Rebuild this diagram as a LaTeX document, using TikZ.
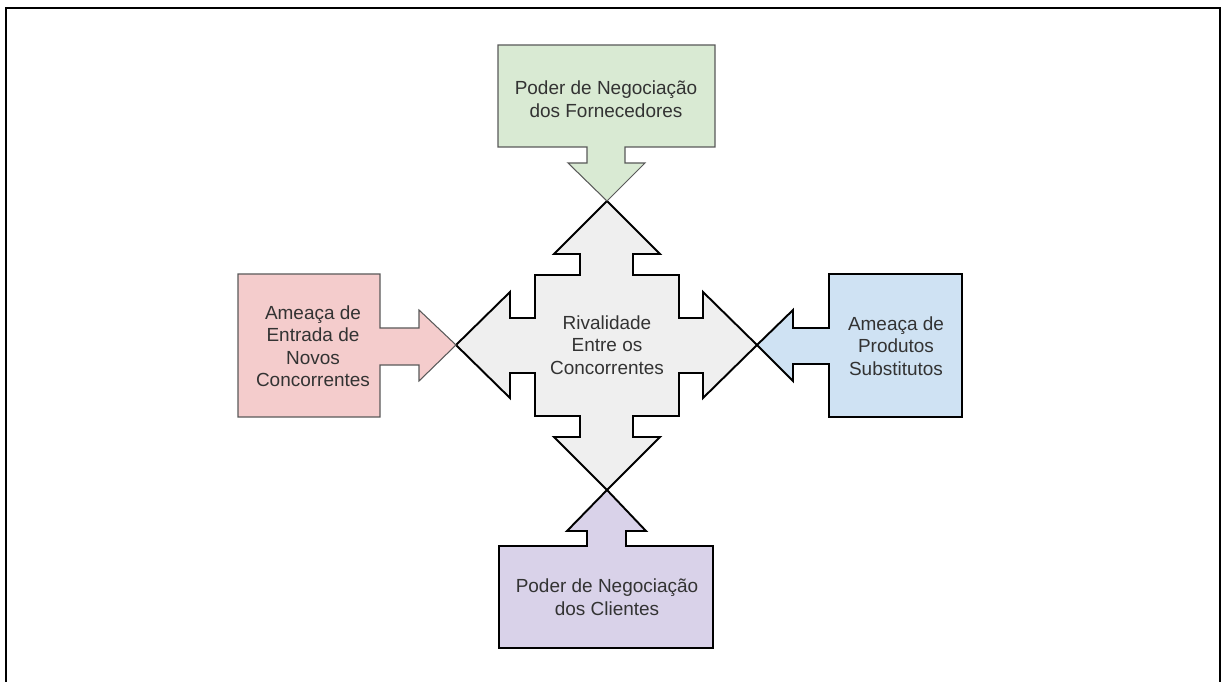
\documentclass[tikz,border=0pt]{standalone}
\usepackage{fontspec}
\setmainfont{Liberation Sans}
\usepackage{xcolor}
\usepackage{tikz}
\usetikzlibrary{positioning,calc}
\definecolor{fornfill}{HTML}{D9EAD3}
\definecolor{entrfill}{HTML}{F4CCCC}
\definecolor{subsfill}{HTML}{CFE2F3}
\definecolor{cliefill}{HTML}{D9D2E9}
\definecolor{rivfill}{HTML}{EFEFEF}
\definecolor{txtgray}{HTML}{333333}
\definecolor{thingray}{HTML}{595959}
\tikzset{
  frame/.style={draw, line width=1.7pt},
  force/.style={draw=thingray, line width=0.6pt, line join=miter},
  strong/.style={draw=black, line width=1.1pt, line join=miter},
  label/.style={font=\fontsize{10.8}{12.8}\selectfont, text=txtgray, align=center},
}

\begin{document}
\begin{tikzpicture}[x=0.02cm, y=-0.02cm]
    \useasboundingbox (0,0) rectangle (1221,682);
    \draw[frame] (6,682) -- (6,8) -- (1220,8) -- (1220,682);

    % shapes
    \filldraw[strong, fill=rivfill] (607,201) -- (660,254) -- (633,254) -- (633,275) -- (679,275)
      -- (679,318) -- (703,318) -- (703,292) -- (757,345) -- (703,398) -- (703,373) -- (679,373)
      -- (679,416) -- (633,416) -- (633,437) -- (660,437) -- (607,490) -- (554,437) -- (580,437)
      -- (580,416) -- (535,416) -- (535,373) -- (510,373) -- (510,398) -- (456,345) -- (510,292)
      -- (510,318) -- (535,318) -- (535,275) -- (580,275) -- (580,254) -- (554,254) -- cycle;
    \filldraw[force, fill=fornfill] (498,45) -- (715,45) -- (715,147) -- (625,147) -- (625,163)
      -- (645,163) -- (607,201) -- (568,163) -- (587,163) -- (587,147) -- (498,147) -- cycle;
    \filldraw[force, fill=entrfill] (238,274) -- (380,274) -- (380,328) -- (419,328) -- (419,310)
      -- (456,345) -- (419,381) -- (419,365) -- (380,365) -- (380,417) -- (238,417) -- cycle;
    \filldraw[strong, fill=subsfill] (962,274) -- (829,274) -- (829,328) -- (793,328) -- (793,310)
      -- (757,345) -- (793,381) -- (793,364) -- (829,364) -- (829,417) -- (962,417) -- cycle;
    \filldraw[strong, fill=cliefill] (499,648) -- (499,546) -- (587,546) -- (587,531) -- (567,531)
      -- (607,490) -- (646,531) -- (626,531) -- (626,546) -- (713,546) -- (713,648) -- cycle;

    % nodes
    \node[label] (Riv)  at (607,345) {Rivalidade\\Entre os\\Concorrentes};
    \node[label] (Forn) at (606,99)  {Poder de Negociação\\dos Fornecedores};
    \node[label] (Entr) at (313,346) {Ameaça de\\Entrada de\\Novos\\Concorrentes};
    \node[label] (Subs) at (896,346) {Ameaça de\\Produtos\\Substitutos};
    \node[label] (Clie) at (607,597) {Poder de Negociação\\dos Clientes};
  \end{tikzpicture}
\end{document}
